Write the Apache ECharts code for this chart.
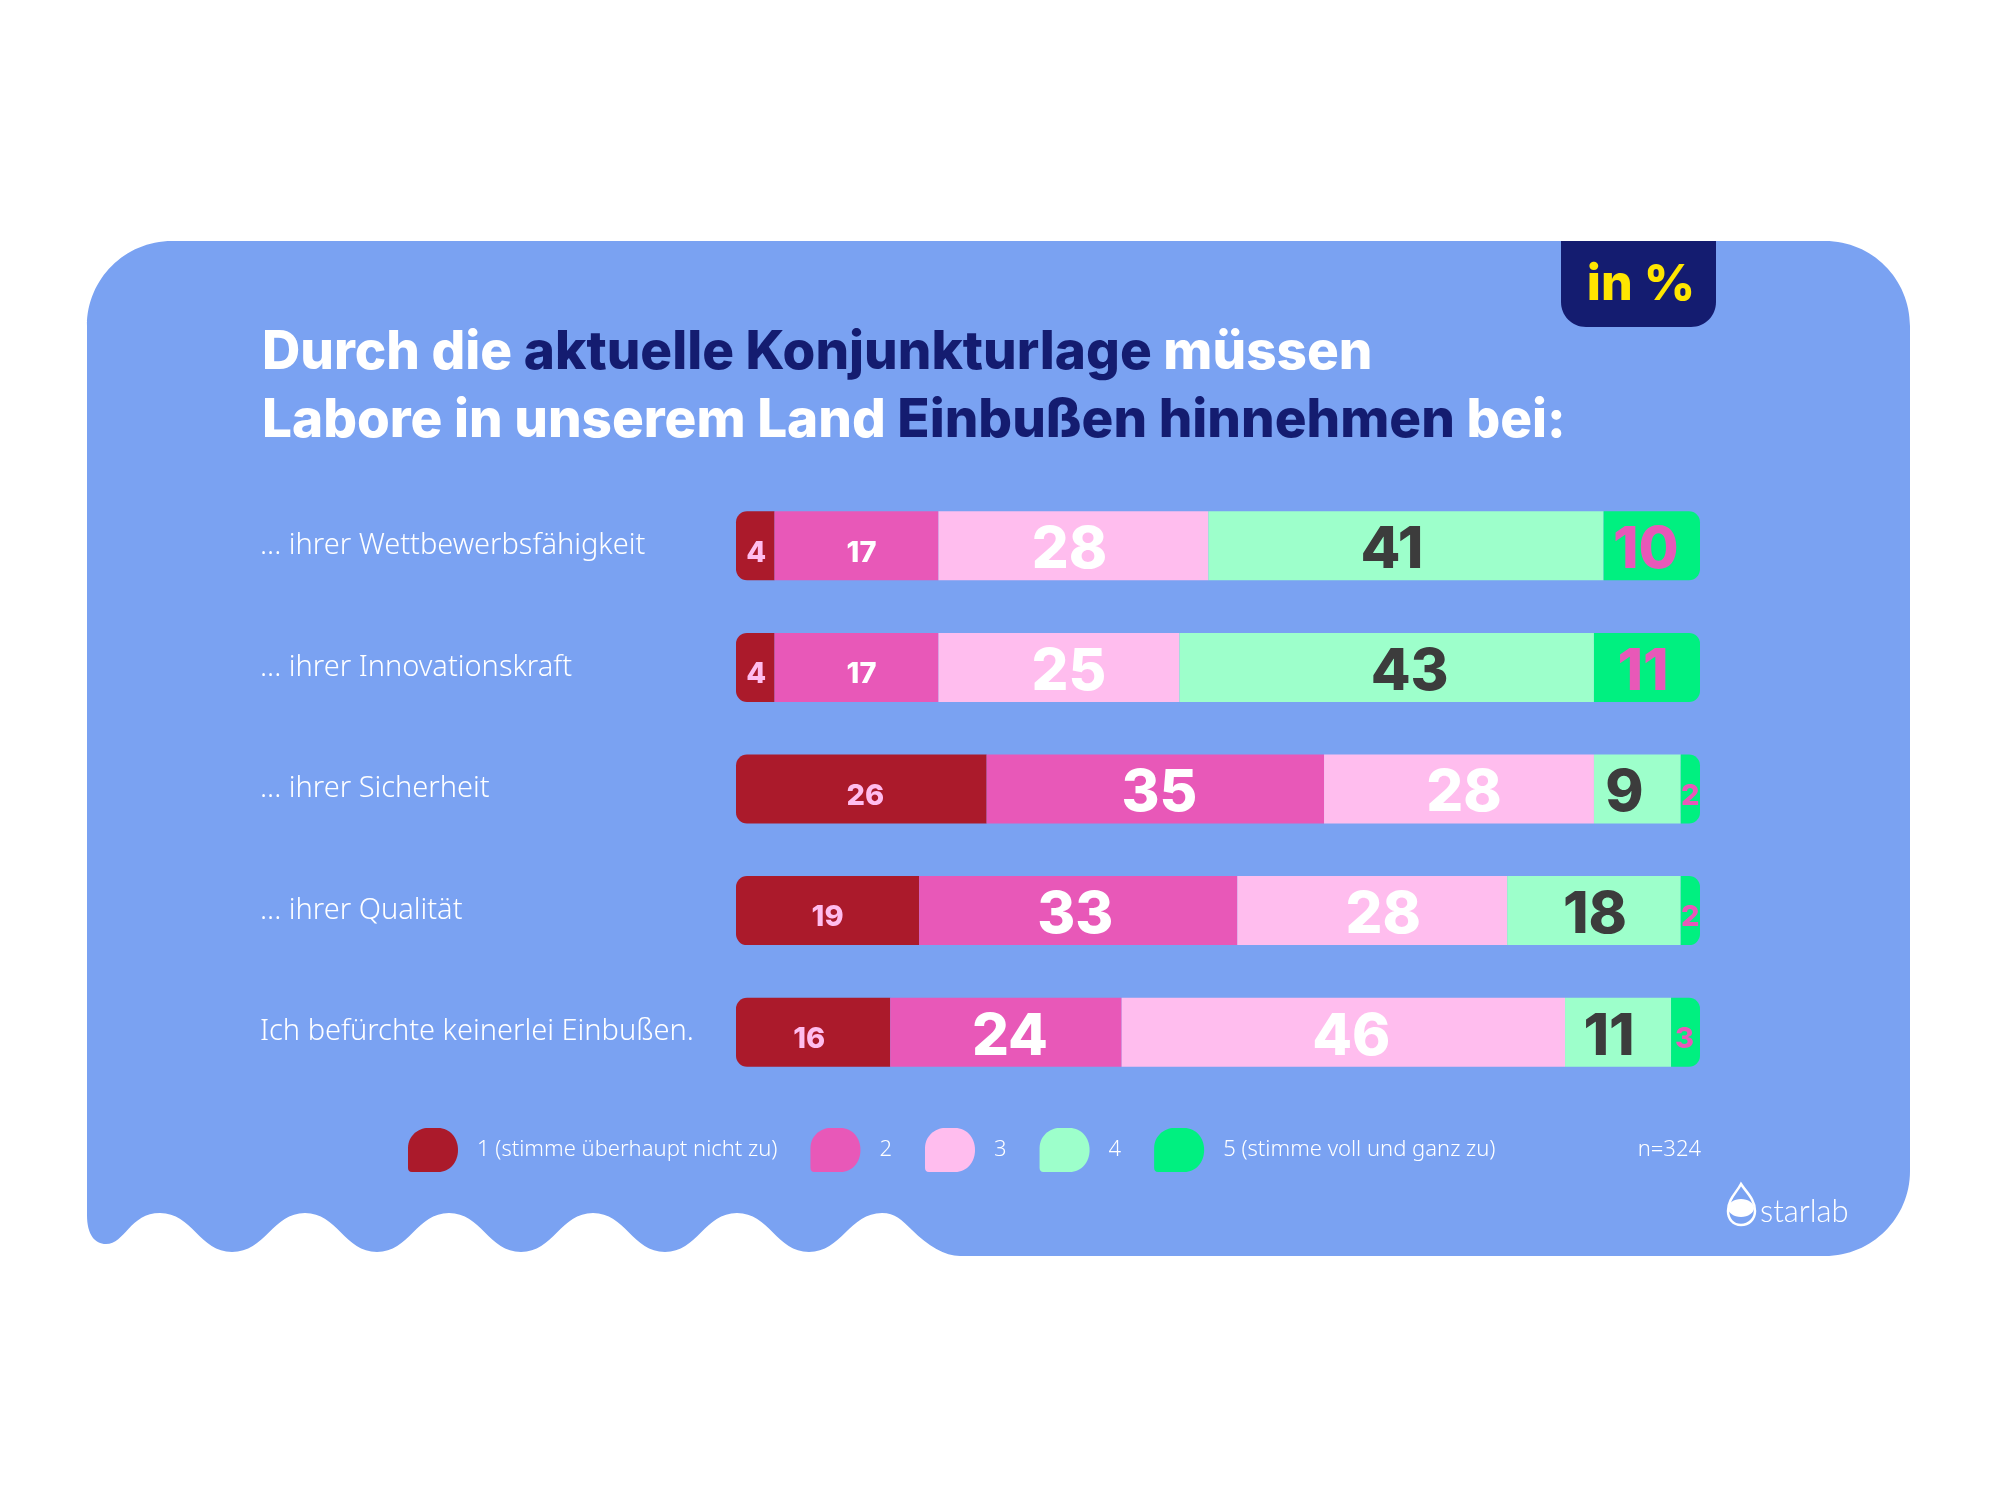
<!DOCTYPE html>
<html lang="de">
<head>
<meta charset="utf-8">
<title>Einbußen durch die Konjunkturlage</title>
<script src="https://cdn.jsdelivr.net/npm/echarts@6/dist/echarts.min.js"></script>
<style>
  html, body { margin: 0; padding: 0; background: #ffffff; }
  #chart { width: 2000px; height: 1500px; }
</style>
</head>
<body>
<div id="chart"></div>
<script>
// Survey statements and answer shares in percent
const categories = [
  '... ihrer Wettbewerbsfähigkeit',
  '... ihrer Innovationskraft',
  '... ihrer Sicherheit',
  '... ihrer Qualität',
  'Ich befürchte keinerlei Einbußen.'
];
const answer1 = [4, 4, 26, 19, 16];
const answer2 = [17, 17, 35, 33, 24];
const answer3 = [28, 25, 28, 28, 46];
const answer4 = [41, 43, 9, 18, 11];
const answer5 = [10, 11, 2, 2, 3];
const answerNames = [
  '1 (stimme überhaupt nicht zu)', '2', '3', '4', '5 (stimme voll und ganz zu)'
];
const sampleNote = 'n=324';

const COLORS = ['#ab1a2b', '#e858b8', '#ffbdee', '#9dffcb', '#00f080'];
const LABEL_COLORS = ['#ffbdee', '#ffffff', '#ffffff', '#3c3c3c', '#e858b8'];
const NAVY = '#141c70';
const CARD = '#7aa2f2';
const HEAD_FONT = 'Inter';
const BODY_FONT = '"Noto Sans"';

// Which segments carry the small number instead of the large one
const smallLabel = [
  [true, true, true, true, true],
  [true, true, false, false, false],
  [false, false, false, false, false],
  [false, false, false, false, false],
  [false, false, true, true, true]
];
// Horizontal fine placement of each number inside its segment, in pixels
const labelNudgeX = [
  [1, 1, 4, 0, -4],
  [5, 5, 4, -3, 4],
  [-4, 10, 5, 11, 8],
  [-14, 23, -13, 1, -9],
  [-6, -4, 0, 0, -1]
];

const BLOB = 'path://M0,20 C0,8 10,0 20,0 H30 C42,0 50,10 50,22 C50,34 42,44 30,44 H4 C1,44 0,42 0,40 Z';
const CARD_PATH = 'M172 241 H1825 C1872 241 1910 279 1910 326 V1171 C1910 1218 1872 1256 1825 1256 H960 ' +
  'C945 1256 928 1246 912 1230 C902 1220 895 1213 882 1213 ' +
  'C850 1213 841 1252 809 1252 C777 1252 769 1213 737 1213 ' +
  'C705 1213 697 1252 665 1252 C633 1252 625 1213 593 1213 ' +
  'C561 1213 553 1252 521 1252 C489 1252 481 1213 449 1213 ' +
  'C417 1213 409 1252 377 1252 C345 1252 337 1213 305 1213 ' +
  'C273 1213 265 1252 232 1252 C200 1252 192 1213 160 1213 ' +
  'C130 1213 125 1244 106 1244 C95 1244 87 1235 87 1215 V326 C87 279 125 241 172 241 Z';
const TAG_PATH = 'M1561 241 H1716 V302 C1716 316 1705 327 1691 327 H1586 C1572 327 1561 316 1561 302 Z';
const DROP_PATH = 'M1741 1184 C1746 1192 1755 1199 1755 1211 C1755 1219 1749 1225 1741 1225 ' +
  'C1733 1225 1728 1219 1728 1211 C1728 1199 1737 1192 1741 1184 Z';

const answers = [answer1, answer2, answer3, answer4, answer5];
const barSeries = answers.map((values, s) => ({
  name: answerNames[s],
  type: 'bar',
  stack: 'share',
  barWidth: 69,
  itemStyle: { color: COLORS[s] },
  z: 5,
  data: values.map((v, i) => {
    const small = smallLabel[s][i];
    const item = {
      value: v,
      label: {
        show: true,
        position: 'inside',
        formatter: '{c}',
        color: LABEL_COLORS[s],
        fontFamily: HEAD_FONT,
        fontWeight: 800,
        fontSize: small ? 29 : 58,
        offset: [labelNudgeX[s][i], small ? 7 : 5]
      }
    };
    if (s === 0) item.itemStyle = { borderRadius: [11, 0, 0, 11] };
    if (s === answers.length - 1) item.itemStyle = { borderRadius: [0, 11, 11, 0] };
    return item;
  })
}));

// Card, unit tag and logo drop sit behind everything on the page
const backdrop = {
  type: 'custom',
  coordinateSystem: 'none',
  silent: true,
  z: -10,
  data: [0],
  renderItem: () => ({
    type: 'group',
    children: [
      { type: 'path', shape: { pathData: CARD_PATH, layout: 'cover', x: 87, y: 241, width: 1823, height: 1015 }, style: { fill: CARD } },
      { type: 'path', shape: { pathData: TAG_PATH, layout: 'cover', x: 1561, y: 241, width: 155, height: 86 }, style: { fill: NAVY } },
      { type: 'path', shape: { pathData: DROP_PATH, layout: 'cover', x: 1728, y: 1184, width: 27, height: 41 }, style: { fill: 'none', stroke: '#ffffff', lineWidth: 2.5 } },
      { type: 'ellipse', shape: { cx: 1741, cy: 1208, rx: 13, ry: 9 }, style: { fill: '#ffffff' } }
    ]
  })
};

const chart = echarts.init(document.getElementById('chart'), null, { renderer: 'canvas' });
chart.setOption({
  backgroundColor: '#ffffff',
  animation: false,
  grid: { left: 736, top: 485, width: 964, height: 608, containLabel: false },
  xAxis: { type: 'value', min: 0, max: 100, show: false },
  yAxis: {
    type: 'category',
    inverse: true,
    data: categories,
    axisLine: { show: false },
    axisTick: { show: false },
    axisLabel: {
      align: 'left',
      margin: 476,
      color: '#ffffff',
      fontFamily: BODY_FONT,
      fontSize: 29,
      fontWeight: 300,
      padding: [5, 0, 0, 0]
    }
  },
  legend: {
    left: 403,
    top: 1123,
    itemWidth: 50,
    itemHeight: 44,
    itemGap: 33,
    icon: BLOB,
    selectedMode: false,
    data: answerNames,
    textStyle: {
      color: '#ffffff',
      fontFamily: BODY_FONT,
      fontWeight: 300,
      fontSize: 22,
      padding: [0, 0, 0, 14]
    }
  },
  title: {
    left: 257,
    top: 314,
    text: '{w|Durch die }{n|aktuelle Konjunkturlage }{w|müssen}\n' +
          '{w|Labore in unserem Land }{n|Einbußen hinnehmen }{w|bei:}',
    textStyle: {
      rich: {
        w: { color: '#ffffff', fontFamily: HEAD_FONT, fontWeight: 800, fontSize: 53, lineHeight: 68 },
        n: { color: NAVY, fontFamily: HEAD_FONT, fontWeight: 800, fontSize: 53, lineHeight: 68 }
      }
    }
  },
  graphic: [
    { type: 'text', z: 10, silent: true, x: 1641, y: 285, style: { text: 'in %', fill: '#ffe600', font: '800 50px Inter', textAlign: 'center', textVerticalAlign: 'middle' } },
    { type: 'text', z: 10, silent: true, x: 1701, y: 1150, style: { text: sampleNote, fill: '#ffffff', font: '300 22px "Noto Sans"', textAlign: 'right', textVerticalAlign: 'middle' } },
    { type: 'text', z: 10, silent: true, x: 1760, y: 1212, style: { text: 'starlab', fill: '#ffffff', font: '300 31px Lato', textAlign: 'left', textVerticalAlign: 'middle' } }
  ],
  series: [backdrop].concat(barSeries)
});
</script>
</body>
</html>
